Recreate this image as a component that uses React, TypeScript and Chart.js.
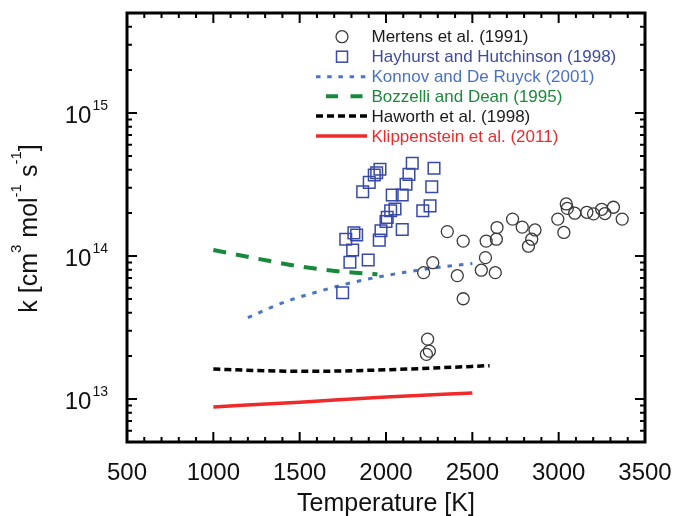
import React, { useEffect, useRef } from "react";
import { Chart, registerables } from "chart.js";

Chart.register(...registerables);

// ---- data ----
const mertensT = [2355, 2447, 2271, 2218, 2413, 2447, 2241, 2251, 2234, 2580, 2643, 2639, 2576, 2552, 2633, 2733, 2789, 2863, 2844, 2825, 2995, 3030, 3044, 3050, 3093, 3163, 3202, 3249, 3268, 3317, 3368];
const mertensK = [1.48e14, 1.27e14, 8.97e13, 7.64e13, 7.28e13, 5.02e13, 2.62e13, 2.16e13, 2.05e13, 1.27e14, 1.58e14, 1.31e14, 9.73e13, 7.95e13, 7.64e13, 1.81e14, 1.59e14, 1.52e14, 1.31e14, 1.17e14, 1.81e14, 1.46e14, 2.31e14, 2.15e14, 1.99e14, 2.02e14, 1.97e14, 2.12e14, 1.98e14, 2.19e14, 1.81e14];

const hayhurstT = [2152, 2133, 2278, 2265, 2255, 2213, 2116, 2094, 2036, 1965, 1946, 1932, 1903, 1865, 2052, 2027, 2007, 2000, 1971, 1961, 2094, 1830, 1767, 1807, 1791, 1897, 1749, 1814];
const hayhurstK = [4.45e14, 3.72e14, 4.10e14, 3.05e14, 2.24e14, 2.07e14, 3.17e14, 2.67e14, 2.67e14, 4.04e14, 3.82e14, 3.68e14, 3.27e14, 2.81e14, 2.13e14, 2.07e14, 1.86e14, 1.74e14, 1.50e14, 1.29e14, 1.53e14, 1.40e14, 1.31e14, 1.10e14, 9.03e13, 9.37e13, 5.53e13, 1.45e14];

const konnovT = [1200, 1400, 1600, 1800, 2000, 2200, 2400, 2500];
const konnovK = [3.7e13, 4.7e13, 5.6e13, 6.5e13, 7.3e13, 8.0e13, 8.6e13, 8.85e13];

const bozzelliT = [1000, 1250, 1500, 1750, 1950];
const bozzelliK = [1.1e14, 9.6e13, 8.45e13, 7.75e13, 7.45e13];

const haworthT = [1000, 1250, 1500, 1750, 2000, 2250, 2600];
const haworthK = [1.62e13, 1.58e13, 1.56e13, 1.57e13, 1.6e13, 1.64e13, 1.71e13];

const klippT = [1000, 1500, 2000, 2500];
const klippK = [8.8e12, 9.5e12, 1.03e13, 1.1e13];

const xTickLabels = ["500", "1000", "1500", "2000", "2500", "3000", "3500"];
const xTickValues = [500, 1000, 1500, 2000, 2500, 3000, 3500];
const yDecades = [13, 14, 15];

const legendLabels = [
  "Mertens et al. (1991)",
  "Hayhurst and Hutchinson (1998)",
  "Konnov and De Ruyck (2001)",
  "Bozzelli and Dean (1995)",
  "Haworth et al. (1998)",
  "Klippenstein et al. (2011)",
];

const FONT = '"Liberation Sans", Arial, sans-serif';
const C_CIRCLE = "#3a3a3a";
const C_SQUARE = "#3949a6";
const C_KONNOV = "#4a74c6";
const C_BOZ = "#17893b";
const C_HAW = "#000000";
const C_KLIP = "#f02a2a";
const legendColors = ["#1a1a1a", "#3d4ba3", "#4a72c2", "#1b8a3b", "#1a1a1a", "#ee2a2a"];

const pts = (xs: number[], ys: number[]) => xs.map((x, i) => ({ x, y: ys[i] }));

const decorPlugin = {
  id: "decor",
  afterDatasetsDraw(chart: any) {
    const ctx = chart.ctx as CanvasRenderingContext2D;
    const { left, right, top, bottom } = chart.chartArea;
    const xs = chart.scales.x;
    const ys = chart.scales.y;
    ctx.save();
    // ticks
    ctx.strokeStyle = "#000";
    ctx.lineWidth = 2;
    ctx.beginPath();
    for (let v = 500; v <= 3500; v += 100) {
      const px = xs.getPixelForValue(v);
      const len = v % 500 === 0 ? 10 : 5;
      ctx.moveTo(px, bottom);
      ctx.lineTo(px, bottom - len);
      ctx.moveTo(px, top);
      ctx.lineTo(px, top + len);
    }
    for (let d = 12; d <= 15; d++) {
      for (let m = 1; m <= 9; m++) {
        const v = m * Math.pow(10, d);
        if (v < ys.min * 0.999 || v > ys.max * 1.001) continue;
        const py = ys.getPixelForValue(v);
        const len = m === 1 ? 10 : 5;
        ctx.moveTo(left, py);
        ctx.lineTo(left + len, py);
        ctx.moveTo(right, py);
        ctx.lineTo(right - len, py);
      }
    }
    ctx.stroke();
    // border
    ctx.lineWidth = 3;
    ctx.strokeRect(left, top, right - left, bottom - top);

    // x tick labels
    ctx.fillStyle = "#111";
    ctx.font = `24px ${FONT}`;
    ctx.textAlign = "center";
    ctx.textBaseline = "alphabetic";
    xTickValues.forEach((v, i) => {
      ctx.fillText(xTickLabels[i], xs.getPixelForValue(v), 480);
    });
    // x title
    ctx.font = `25px ${FONT}`;
    ctx.fillText("Temperature [K]", (left + right) / 2, 511);

    // y tick labels
    yDecades.forEach((d) => {
      const py = ys.getPixelForValue(Math.pow(10, d));
      const rx = 108;
      ctx.textAlign = "right";
      ctx.font = `14px ${FONT}`;
      const sup = String(d);
      const sw = ctx.measureText(sup).width;
      ctx.fillText(sup, rx, py - 3);
      ctx.font = `24px ${FONT}`;
      ctx.fillText("10", rx - sw - 1, py + 10);
    });

    // y title (rotated)
    ctx.save();
    ctx.translate(37, (top + bottom) / 2 + 1);
    ctx.rotate(-Math.PI / 2);
    const parts: [string, boolean][] = [
      ["k [cm", false],
      ["3", true],
      [" mol", false],
      ["-1", true],
      [" s", false],
      ["-1", true],
      ["]", false],
    ];
    const mainF = `25px ${FONT}`;
    const supF = `15px ${FONT}`;
    let total = 0;
    parts.forEach(([t, s]) => {
      ctx.font = s ? supF : mainF;
      total += ctx.measureText(t).width;
    });
    let cx = -total / 2;
    ctx.textAlign = "left";
    parts.forEach(([t, s]) => {
      ctx.font = s ? supF : mainF;
      ctx.fillText(t, cx, s ? -16 : 0);
      cx += ctx.measureText(t).width;
    });
    ctx.restore();

    // legend
    const rows = [36.7, 56.7, 76.7, 96.3, 116, 136];
    const tx = 371.5;
    const lx0 = 316;
    const lx1 = 367;
    ctx.textAlign = "left";
    ctx.textBaseline = "middle";
    ctx.font = `17px ${FONT}`;
    legendLabels.forEach((lab, i) => {
      ctx.fillStyle = legendColors[i];
      ctx.fillText(lab, tx, rows[i] + 1);
    });
    // markers
    ctx.lineWidth = 1.3;
    ctx.strokeStyle = C_CIRCLE;
    ctx.beginPath();
    ctx.arc(342, rows[0], 6, 0, Math.PI * 2);
    ctx.stroke();
    ctx.strokeStyle = C_SQUARE;
    ctx.lineWidth = 1.5;
    ctx.strokeRect(336.5, rows[1] - 5.5, 11, 11);
    const seg = (y: number, color: string, w: number, dash: number[], x0: number) => {
      ctx.beginPath();
      ctx.setLineDash(dash);
      ctx.strokeStyle = color;
      ctx.lineWidth = w;
      ctx.moveTo(x0, y);
      ctx.lineTo(lx1, y);
      ctx.stroke();
    };
    seg(rows[2], C_KONNOV, 3, [4.5, 6.7], lx0);
    seg(rows[3], C_BOZ, 4, [12, 12.5], 326);
    seg(rows[4], C_HAW, 3.5, [7, 4], lx0);
    seg(rows[5], C_KLIP, 3.5, [], lx0);
    ctx.setLineDash([]);
    ctx.restore();
  },
};

export default function App() {
  const ref = useRef<HTMLCanvasElement | null>(null);
  useEffect(() => {
    if (!ref.current) return;
    const chart = new Chart(ref.current, {
      type: "scatter",
      data: {
        datasets: [
          {
            label: legendLabels[0],
            data: pts(mertensT, mertensK),
            pointStyle: "circle",
            pointRadius: 6,
            borderColor: C_CIRCLE,
            backgroundColor: "rgba(0,0,0,0)",
            borderWidth: 1.3,
            showLine: false,
          },
          {
            label: legendLabels[1],
            data: pts(hayhurstT, hayhurstK),
            pointStyle: "rect",
            pointRadius: 8.2,
            borderColor: C_SQUARE,
            backgroundColor: "rgba(0,0,0,0)",
            borderWidth: 1.5,
            showLine: false,
          },
          {
            label: legendLabels[2],
            data: pts(konnovT, konnovK),
            showLine: true,
            pointRadius: 0,
            borderColor: C_KONNOV,
            borderWidth: 3,
            borderDash: [4.5, 7],
            cubicInterpolationMode: "monotone",
            fill: false,
          },
          {
            label: legendLabels[3],
            data: pts(bozzelliT, bozzelliK),
            showLine: true,
            pointRadius: 0,
            borderColor: C_BOZ,
            borderWidth: 4,
            borderDash: [13, 10],
            cubicInterpolationMode: "monotone",
            fill: false,
          },
          {
            label: legendLabels[4],
            data: pts(haworthT, haworthK),
            showLine: true,
            pointRadius: 0,
            borderColor: C_HAW,
            borderWidth: 3.5,
            borderDash: [7, 4],
            cubicInterpolationMode: "monotone",
            fill: false,
          },
          {
            label: legendLabels[5],
            data: pts(klippT, klippK),
            showLine: true,
            pointRadius: 0,
            borderColor: C_KLIP,
            borderWidth: 3.5,
            cubicInterpolationMode: "monotone",
            fill: false,
          },
        ],
      },
      options: {
        animation: false,
        responsive: false,
        devicePixelRatio: 1,
        layout: { padding: { left: 127, top: 13, right: 31, bottom: 74 } },
        plugins: { legend: { display: false }, tooltip: { enabled: false } },
        scales: {
          x: { type: "linear", min: 500, max: 3500, display: false },
          y: { type: "logarithmic", min: 5e12, max: 5e15, display: false },
        },
      },
      plugins: [decorPlugin],
    } as any);
    return () => chart.destroy();
  }, []);
  return (
    <div style={{ position: "absolute", left: 0, top: 0, width: 676, height: 516, background: "#fff" }}>
      <canvas ref={ref} width={676} height={516} style={{ width: 676, height: 516, display: "block" }} />
    </div>
  );
}
